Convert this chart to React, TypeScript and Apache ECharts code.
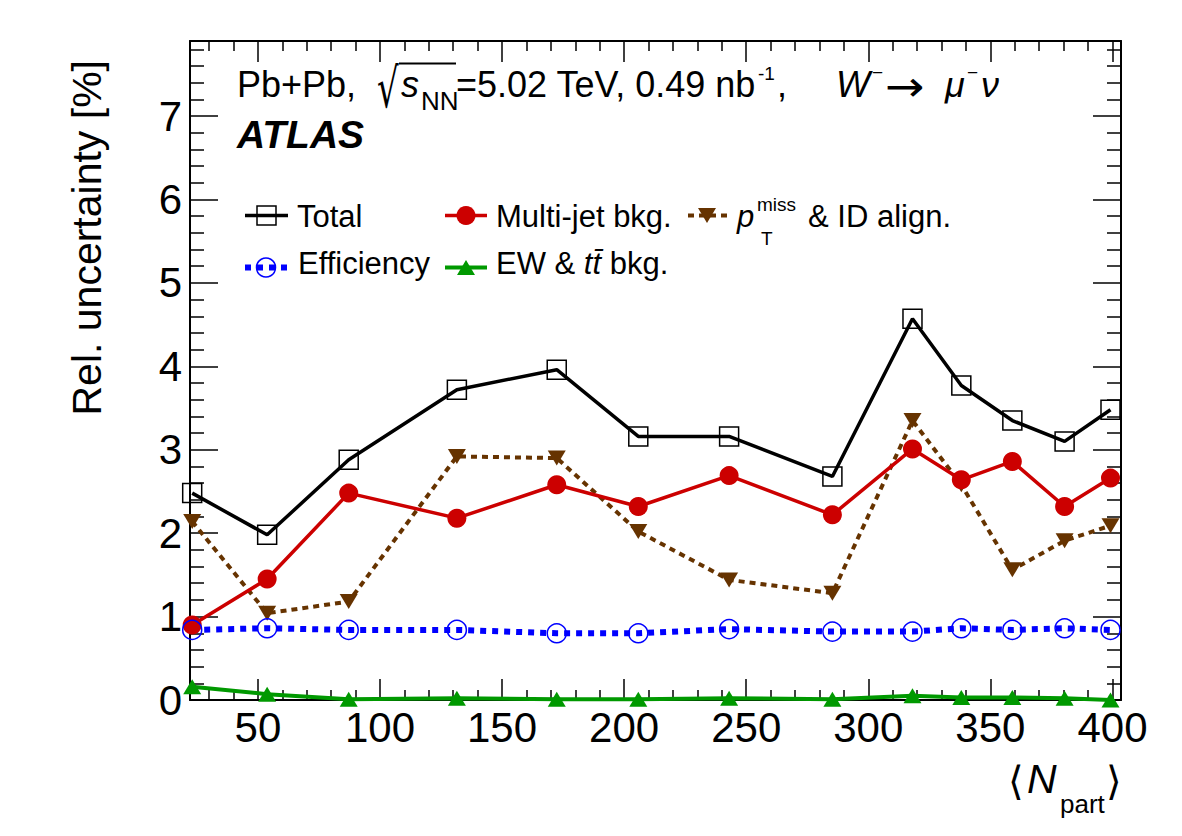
import React, { useEffect, useRef } from "react";
import * as echarts from "echarts";

// ---- data ----
const npart = [23.1, 53.8, 87.2, 131.5, 172.4, 205.8, 243.0, 285.3, 318.1, 338.1, 359.0, 380.4, 399.2];
const total = [2.48, 1.98, 2.88, 3.72, 3.96, 3.16, 3.16, 2.68, 4.57, 3.77, 3.35, 3.10, 3.48];
const multijet = [0.90, 1.45, 2.48, 2.18, 2.58, 2.32, 2.69, 2.22, 3.01, 2.64, 2.86, 2.32, 2.66];
const ptmiss = [2.14, 1.04, 1.18, 2.92, 2.90, 2.02, 1.44, 1.28, 3.35, 2.58, 1.56, 1.91, 2.09];
const efficiency = [0.84, 0.86, 0.84, 0.84, 0.80, 0.80, 0.85, 0.82, 0.82, 0.86, 0.84, 0.86, 0.84];
const ew = [0.16, 0.07, 0.01, 0.02, 0.01, 0.01, 0.02, 0.01, 0.05, 0.03, 0.03, 0.02, 0.00];

const xMajorTicks = [50, 100, 150, 200, 250, 300, 350, 400];
const yMajorTicks = [0, 1, 2, 3, 4, 5, 6, 7];

const X_MIN = 22.2;
const X_MAX = 403.5;
const Y_MIN = 0;
const Y_MAX = 7.9;

const xMinorTicks: number[] = [];
for (let v = 30; v <= 400; v += 10) if (v % 50 !== 0) xMinorTicks.push(v);
const yMinorTicks: number[] = [];
for (let i = 1; i < 40; i++) if (i % 5 !== 0) yMinorTicks.push(Math.round(i * 20) / 100);

const FONT = "Liberation Sans";
const RED = "#cc0000";
const BROWN = "#663300";
const BLUE = "#0000ff";
const GREEN = "#009900";

function pairs(ys: number[]) {
  return npart.map((x, i) => [x, ys[i]]);
}

function txt(x: number, y: number, text: string, size: number, extra: any = {}) {
  const { style, ...rest } = extra;
  return {
    type: "text",
    x,
    y,
    z: 10,
    ...rest,
    style: {
      text,
      fontSize: size,
      fontFamily: FONT,
      fill: "#000",
      align: "left",
      verticalAlign: "middle",
      ...(style || {}),
    },
  };
}

function xAxisDef(position: "bottom" | "top", minor: boolean, labels: boolean) {
  return {
    type: "value",
    position,
    min: X_MIN,
    max: X_MAX,
    axisLine: { show: !minor, onZero: false, lineStyle: { color: "#000", width: 2 } },
    axisTick: {
      show: true,
      inside: true,
      length: minor ? 10 : 21,
      customValues: minor ? xMinorTicks : xMajorTicks,
      lineStyle: { color: "#000", width: 1.5 },
    },
    axisLabel: labels
      ? {
          show: true,
          customValues: xMajorTicks,
          fontSize: 42,
          fontFamily: FONT,
          color: "#000",
          margin: 6,
        }
      : { show: false },
    splitLine: { show: false },
  };
}

function yAxisDef(position: "left" | "right", minor: boolean, labels: boolean) {
  return {
    type: "value",
    position,
    min: Y_MIN,
    max: Y_MAX,
    axisLine: { show: !minor, onZero: false, lineStyle: { color: "#000", width: 2 } },
    axisTick: {
      show: true,
      inside: true,
      length: minor ? 14 : 28,
      customValues: minor ? yMinorTicks : yMajorTicks,
      lineStyle: { color: "#000", width: 1.5 },
    },
    axisLabel: labels
      ? {
          show: true,
          customValues: yMajorTicks,
          fontSize: 42,
          fontFamily: FONT,
          color: "#000",
          margin: 8,
        }
      : { show: false },
    splitLine: { show: false },
  };
}

function triangle(cx: number, cy: number, w: number, h: number, down: boolean) {
  return down
    ? [
        [cx - w / 2, cy - h / 2],
        [cx + w / 2, cy - h / 2],
        [cx, cy + h / 2],
      ]
    : [
        [cx - w / 2, cy + h / 2],
        [cx + w / 2, cy + h / 2],
        [cx, cy - h / 2],
      ];
}

export default function App() {
  const ref = useRef<HTMLDivElement>(null);

  useEffect(() => {
    if (!ref.current) return;
    const chart = echarts.init(ref.current, undefined, { renderer: "svg" });

    const hdrY = 84.5;
    const HS = 36;
    const LS = 31;
    const graphic: any[] = [
      // header line
      txt(237, hdrY, "Pb+Pb,", HS),
      txt(377, 88, "\u221A", 34, { scaleY: 1.6, style: { fontFamily: "DejaVu Sans" } }),
      {
        type: "line",
        z: 10,
        shape: { x1: 399, y1: 63.5, x2: 456, y2: 63.5 },
        style: { stroke: "#000", lineWidth: 2 },
      },
      txt(401, hdrY, "s", HS, { style: { fontStyle: "italic" } }),
      txt(421, 101, "NN", 26),
      txt(456, hdrY, "=5.02 TeV, 0.49 nb", HS),
      txt(758, 73, "-1", 19),
      txt(777, hdrY, ",", HS),
      txt(836, hdrY, "W", HS, { style: { fontStyle: "italic" } }),
      txt(872, 72, "\u2212", 19),
      txt(885, 87, "\u2192", 42, { scaleX: 1.12, style: { fontFamily: "DejaVu Sans" } }),
      txt(945, hdrY, "\u03BC", HS, { style: { fontStyle: "italic" } }),
      txt(967, 72, "\u2212", 19),
      txt(981, hdrY, "\u03BD", HS, { style: { fontStyle: "italic" } }),
      // ATLAS
      txt(237, 134, "ATLAS", 39, { style: { fontStyle: "italic", fontWeight: "bold" } }),

      // legend row 1
      {
        type: "line",
        z: 10,
        shape: { x1: 245, y1: 215.5, x2: 288, y2: 215.5 },
        style: { stroke: "#000", lineWidth: 3.5 },
      },
      {
        type: "rect",
        z: 11,
        shape: { x: 257, y: 206, width: 19, height: 19 },
        style: { fill: "none", stroke: "#000", lineWidth: 1.5 },
      },
      txt(297, 216, "Total", LS),
      {
        type: "line",
        z: 10,
        shape: { x1: 445, y1: 215.5, x2: 487, y2: 215.5 },
        style: { stroke: RED, lineWidth: 3.5 },
      },
      {
        type: "circle",
        z: 11,
        shape: { cx: 466, cy: 215.5, r: 9.5 },
        style: { fill: RED },
      },
      txt(496, 216, "Multi-jet bkg.", LS),
      {
        type: "line",
        z: 10,
        shape: { x1: 688, y1: 215.5, x2: 729, y2: 215.5 },
        style: { stroke: BROWN, lineWidth: 4, lineDash: [6, 5] },
      },
      {
        type: "polygon",
        z: 11,
        shape: { points: triangle(707, 215.5, 18, 15, true) },
        style: { fill: BROWN },
      },
      txt(737, 216, "p", LS, { style: { fontStyle: "italic" } }),
      txt(757, 204, "miss", 19),
      txt(761, 238, "T", 19),
      txt(808, 216, "& ID align.", LS),

      // legend row 2
      {
        type: "line",
        z: 10,
        shape: { x1: 245, y1: 267.5, x2: 290, y2: 267.5 },
        style: { stroke: BLUE, lineWidth: 6, lineDash: [6, 6] },
      },
      {
        type: "circle",
        z: 11,
        shape: { cx: 266, cy: 267.5, r: 9.5 },
        style: { fill: "none", stroke: BLUE, lineWidth: 1.5 },
      },
      txt(298, 263, "Efficiency", LS),
      {
        type: "line",
        z: 10,
        shape: { x1: 445, y1: 267.5, x2: 487, y2: 267.5 },
        style: { stroke: GREEN, lineWidth: 4 },
      },
      {
        type: "polygon",
        z: 11,
        shape: { points: triangle(466, 267.5, 18, 15, false) },
        style: { fill: GREEN },
      },
      {
        type: "text",
        x: 496,
        y: 263,
        z: 10,
        style: {
          text: "EW & {it|tt\u0304} bkg.",
          fontSize: LS,
          fontFamily: FONT,
          fill: "#000",
          align: "left",
          verticalAlign: "middle",
          rich: {
            it: { fontSize: LS, fontFamily: FONT, fontStyle: "italic", fill: "#000" },
          },
        },
      },

      // y-axis title
      {
        type: "text",
        x: 87,
        y: 60,
        rotation: Math.PI / 2,
        z: 10,
        style: {
          text: "Rel. uncertainty [%]",
          fontSize: 41,
          fontFamily: FONT,
          fill: "#000",
          align: "right",
          verticalAlign: "middle",
        },
      },

      // x-axis title
      txt(1008, 781, "\u27E8", 40, { style: { fontFamily: "DejaVu Sans" } }),
      txt(1027, 779, "N", 41, { style: { fontStyle: "italic" } }),
      txt(1060, 804, "part", 26),
      txt(1106, 781, "\u27E9", 40, { style: { fontFamily: "DejaVu Sans" } }),
    ];

    const option: any = {
      animation: false,
      backgroundColor: "#ffffff",
      grid: { left: 190, right: 61, top: 41, bottom: 136, containLabel: false },
      xAxis: [
        xAxisDef("bottom", false, true),
        xAxisDef("bottom", true, false),
        xAxisDef("top", false, false),
        xAxisDef("top", true, false),
      ],
      yAxis: [
        yAxisDef("left", false, true),
        yAxisDef("left", true, false),
        yAxisDef("right", false, false),
        yAxisDef("right", true, false),
      ],
      graphic,
      series: [
        {
          name: "Total",
          type: "line",
          data: pairs(total),
          clip: false,
          symbol: "rect",
          symbolSize: 19,
          itemStyle: { color: "transparent", borderColor: "#000", borderWidth: 1.5 },
          lineStyle: { color: "#000", width: 3.5 },
        },
        {
          name: "pTmiss & ID align.",
          type: "line",
          data: pairs(ptmiss),
          clip: false,
          symbol: "triangle",
          symbolRotate: 180,
          symbolSize: [18, 15],
          itemStyle: { color: BROWN },
          lineStyle: { color: BROWN, width: 4, type: [6, 5] },
        },
        {
          name: "Multi-jet bkg.",
          type: "line",
          data: pairs(multijet),
          clip: false,
          symbol: "circle",
          symbolSize: 19,
          itemStyle: { color: RED },
          lineStyle: { color: RED, width: 3.5 },
        },
        {
          name: "Efficiency",
          type: "line",
          data: pairs(efficiency),
          clip: false,
          symbol: "circle",
          symbolSize: 19,
          itemStyle: { color: "transparent", borderColor: BLUE, borderWidth: 1.5 },
          lineStyle: { color: BLUE, width: 6, type: [6, 6] },
        },
        {
          name: "EW & ttbar bkg.",
          type: "line",
          data: pairs(ew),
          clip: false,
          symbol: "triangle",
          symbolSize: [18, 15],
          itemStyle: { color: GREEN },
          lineStyle: { color: GREEN, width: 4 },
        },
      ],
    };

    chart.setOption(option);
    return () => chart.dispose();
  }, []);

  return (
    <div
      ref={ref}
      style={{ position: "fixed", left: 0, top: 0, width: 1182, height: 836, background: "#fff" }}
    />
  );
}
